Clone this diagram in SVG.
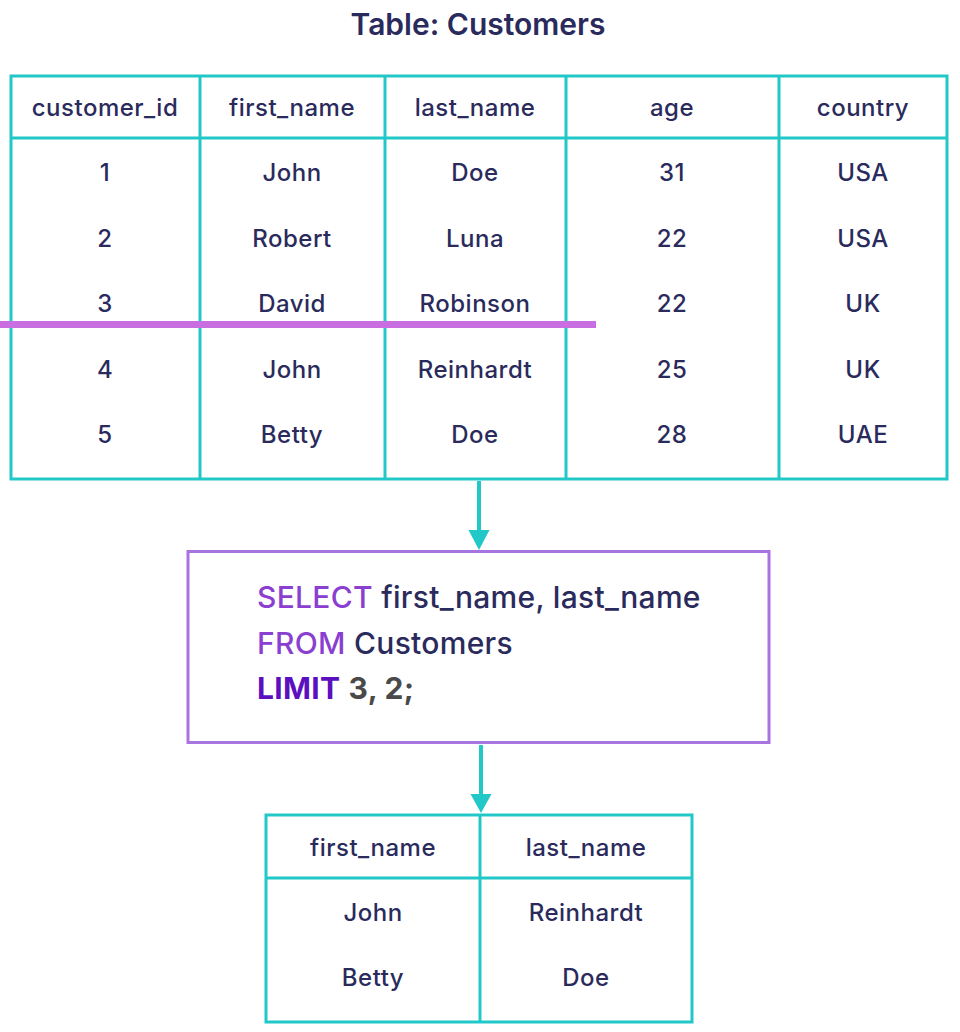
<svg xmlns="http://www.w3.org/2000/svg" width="960" height="1032" viewBox="0 0 960 1032">
<defs>
<style>
.t{font-family:Inter,"Noto Sans","Liberation Sans",sans-serif;font-size:24px;font-weight:500;letter-spacing:0.5px;fill:#2a2b5c;text-anchor:middle}
.title{font-size:30px;font-weight:600;letter-spacing:0}
.grid{fill:none;stroke:#22c8c8;stroke-width:3}
.sql{font-family:Inter,"Noto Sans","Liberation Sans",sans-serif;font-size:30px;font-weight:500;letter-spacing:0.3px;fill:#2a2b5c}
.kw{fill:#8a3fd1}
.kw2{fill:#5c0fbf;font-weight:700}
.num{fill:#4a4a4a;font-weight:700}
</style>
</defs>
<rect width="960" height="1032" fill="#ffffff"/>
<text class="t title" x="478" y="35">Table: Customers</text>

<g id="customers-table">
<rect class="grid" x="11" y="76" width="936" height="403"/>
<line class="grid" x1="11" y1="138" x2="947" y2="138"/>
<line class="grid" x1="200" y1="76" x2="200" y2="479"/>
<line class="grid" x1="385" y1="76" x2="385" y2="479"/>
<line class="grid" x1="566" y1="76" x2="566" y2="479"/>
<line class="grid" x1="779" y1="76" x2="779" y2="479"/>
<text class="t" x="105" y="116">customer_id</text>
<text class="t" x="292" y="116">first_name</text>
<text class="t" x="475" y="116">last_name</text>
<text class="t" x="672" y="116">age</text>
<text class="t" x="863" y="116">country</text>
<text class="t" x="105" y="181">1</text>
<text class="t" x="292" y="181">John</text>
<text class="t" x="475" y="181">Doe</text>
<text class="t" x="672" y="181">31</text>
<text class="t" x="863" y="181">USA</text>
<text class="t" x="105" y="247">2</text>
<text class="t" x="292" y="247">Robert</text>
<text class="t" x="475" y="247">Luna</text>
<text class="t" x="672" y="247">22</text>
<text class="t" x="863" y="247">USA</text>
<text class="t" x="105" y="312">3</text>
<text class="t" x="292" y="312">David</text>
<text class="t" x="475" y="312">Robinson</text>
<text class="t" x="672" y="312">22</text>
<text class="t" x="863" y="312">UK</text>
<text class="t" x="105" y="378">4</text>
<text class="t" x="292" y="378">John</text>
<text class="t" x="475" y="378">Reinhardt</text>
<text class="t" x="672" y="378">25</text>
<text class="t" x="863" y="378">UK</text>
<text class="t" x="105" y="443">5</text>
<text class="t" x="292" y="443">Betty</text>
<text class="t" x="475" y="443">Doe</text>
<text class="t" x="672" y="443">28</text>
<text class="t" x="863" y="443">UAE</text>
<line x1="0" y1="324.5" x2="596" y2="324.5" stroke="#c86ee0" stroke-width="7"/>
</g>

<g id="connectors">
<line x1="479" y1="481" x2="479" y2="530" stroke="#22c8c8" stroke-width="4"/>
<path d="M468.5,530 L489.5,530 L479,550 z" fill="#22c8c8"/>
<line x1="481" y1="745" x2="481" y2="794" stroke="#22c8c8" stroke-width="4"/>
<path d="M470.5,794 L491.5,794 L481,813 z" fill="#22c8c8"/>
</g>

<g id="sql-query">
<rect x="188" y="551.5" width="581" height="191" fill="#ffffff" stroke="#a774e0" stroke-width="3"/>
<text class="sql" x="257" y="608"><tspan class="kw">SELECT</tspan> first_name, last_name</text>
<text class="sql" x="257" y="654"><tspan class="kw">FROM</tspan> Customers</text>
<text class="sql" x="257" y="699"><tspan class="kw2">LIMIT</tspan> <tspan class="num">3, 2;</tspan></text>
</g>

<g id="result-table">
<rect class="grid" x="266" y="815" width="426" height="207"/>
<line class="grid" x1="266" y1="878" x2="692" y2="878"/>
<line class="grid" x1="480" y1="815" x2="480" y2="1022"/>
<text class="t" x="373" y="856">first_name</text>
<text class="t" x="586" y="856">last_name</text>
<text class="t" x="373" y="921">John</text>
<text class="t" x="586" y="921">Reinhardt</text>
<text class="t" x="373" y="986">Betty</text>
<text class="t" x="586" y="986">Doe</text>
</g>
</svg>
